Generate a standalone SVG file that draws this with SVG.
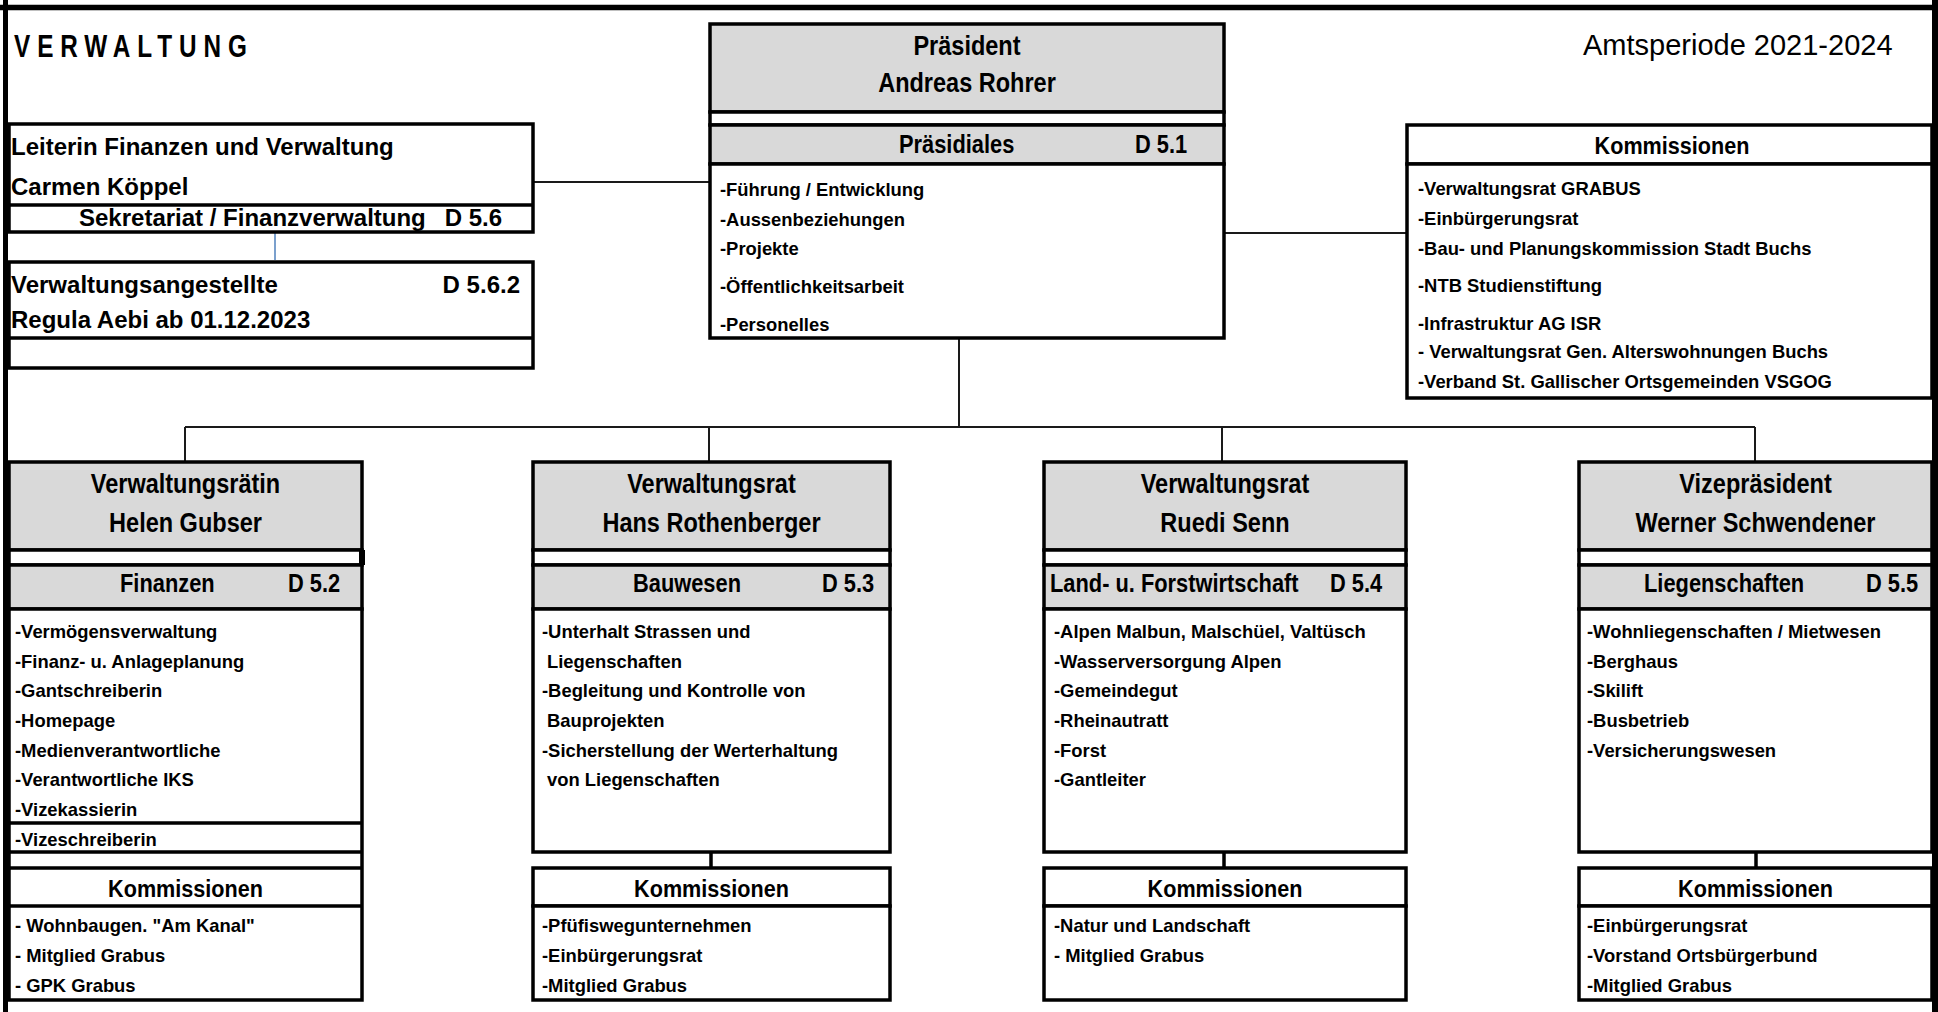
<svg xmlns="http://www.w3.org/2000/svg" width="1938" height="1012" viewBox="0 0 1938 1012">
<style>
.bx{fill:#fff;stroke:#000;stroke-width:3.5}
.gy{fill:#d9d9d9;stroke:#000;stroke-width:3.5}
.ln{stroke:#000;stroke-width:3.5;fill:none}
.cn{stroke:#1a1a1a;stroke-width:2;fill:none}
.fr{stroke:#000;fill:none}
text{font-family:"Liberation Sans",Arial,sans-serif;font-weight:bold;fill:#000}
.h{font-size:28px;text-anchor:middle}
.b{font-size:26px}
.k{font-size:24px;text-anchor:middle}
.l{font-size:18.4px}
.m{font-size:24px}
.e{text-anchor:end}
</style>
<rect width="1938" height="1012" fill="#fff"/>
<g id="frame">
<line class="fr" x1="5.5" y1="0" x2="5.5" y2="1012" stroke-width="5"/>
<line class="fr" x1="0" y1="7.5" x2="1938" y2="7.5" stroke-width="5.5"/>
<line class="fr" x1="1935" y1="0" x2="1935" y2="1012" stroke-width="6"/>
<text transform="matrix(0.76 0 0 1 14 57)" font-size="32" letter-spacing="9.1">VERWALTUNG</text>
<text x="1583" y="55" font-size="29" style="font-weight:normal">Amtsperiode 2021-2024</text>
</g>
<g id="connectors">
<path class="cn" d="M522 182H710M1224 233H1407M959 338V427M185 427H1755M185 427V462M709 427V462M1222 427V462M1755 427V462"/>
<path class="ln" d="M711 852V868M1224 852V868"/>
<path class="ln" d="M1756 852V868" stroke-width="6"/>
<path d="M275 233V260" stroke="#4f81bd" stroke-width="1.5" fill="none"/>
</g>
<g id="leiterin">
<rect class="bx" x="9" y="124" width="524" height="108"/>
<line class="ln" x1="9" y1="205" x2="533" y2="205"/>
<text class="m" x="11" y="155">Leiterin Finanzen und Verwaltung</text>
<text class="m" x="11" y="195">Carmen Köppel</text>
<text class="m" x="79" y="226">Sekretariat / Finanzverwaltung</text>
<text class="m e" x="502" y="226">D 5.6</text>
</g>
<g id="angestellte">
<rect class="bx" x="9" y="262" width="524" height="106"/>
<line class="ln" x1="9" y1="338" x2="533" y2="338"/>
<text class="m" x="11" y="293">Verwaltungsangestellte</text>
<text class="m e" x="520" y="293">D 5.6.2</text>
<text class="m" x="11" y="328">Regula Aebi ab 01.12.2023</text>
</g>
<g id="praesident">
<rect class="gy" x="710" y="24" width="514" height="88"/>
<rect class="bx" x="710" y="112" width="514" height="13"/>
<rect class="gy" x="710" y="125" width="514" height="39"/>
<rect class="bx" x="710" y="164" width="514" height="174"/>
<text class="h" transform="matrix(0.84 0 0 1 967 55)">Präsident</text>
<text class="h" transform="matrix(0.84 0 0 1 967 92)">Andreas Rohrer</text>
<text class="b" transform="matrix(0.84 0 0 1 899 153)">Präsidiales</text>
<text class="b" transform="matrix(0.84 0 0 1 1135 153)">D 5.1</text>
<text class="l" x="720" y="196">-Führung / Entwicklung</text>
<text class="l" x="720" y="226">-Aussenbeziehungen</text>
<text class="l" x="720" y="255">-Projekte</text>
<text class="l" x="720" y="293">-Öffentlichkeitsarbeit</text>
<text class="l" x="720" y="331">-Personelles</text>
</g>
<g id="kommissionen-top">
<rect class="bx" x="1407" y="125" width="525" height="39"/>
<rect class="bx" x="1407" y="164" width="525" height="234"/>
<text class="k" transform="matrix(0.9 0 0 1 1672 154)">Kommissionen</text>
<text class="l" x="1418" y="195">-Verwaltungsrat GRABUS</text>
<text class="l" x="1418" y="225">-Einbürgerungsrat</text>
<text class="l" x="1418" y="255">-Bau- und Planungskommission Stadt Buchs</text>
<text class="l" x="1418" y="292">-NTB Studienstiftung</text>
<text class="l" x="1418" y="330">-Infrastruktur AG ISR</text>
<text class="l" x="1418" y="358">- Verwaltungsrat Gen. Alterswohnungen Buchs</text>
<text class="l" x="1418" y="388">-Verband St. Gallischer Ortsgemeinden VSGOG</text>
</g>
<g id="gubser">
<rect class="gy" x="9" y="462" width="353" height="88"/>
<rect class="bx" x="9" y="550" width="353" height="15"/>
<rect x="359" y="550" width="6" height="15" fill="#000"/>
<rect class="gy" x="9" y="565" width="353" height="44"/>
<rect class="bx" x="9" y="609" width="353" height="391"/>
<path class="ln" d="M9 823H362M9 852H362M9 868H362M9 906H362"/>
<text class="h" transform="matrix(0.84 0 0 1 185.5 493)">Verwaltungsrätin</text>
<text class="h" transform="matrix(0.84 0 0 1 185.5 532)">Helen Gubser</text>
<text class="b" transform="matrix(0.84 0 0 1 120 592)">Finanzen</text>
<text class="b" transform="matrix(0.84 0 0 1 288 592)">D 5.2</text>
<text class="l" x="15" y="638">-Vermögensverwaltung</text>
<text class="l" x="15" y="668">-Finanz- u. Anlageplanung</text>
<text class="l" x="15" y="697">-Gantschreiberin</text>
<text class="l" x="15" y="727">-Homepage</text>
<text class="l" x="15" y="757">-Medienverantwortliche</text>
<text class="l" x="15" y="786">-Verantwortliche IKS</text>
<text class="l" x="15" y="816">-Vizekassierin</text>
<text class="l" x="15" y="846">-Vizeschreiberin</text>
<text class="k" transform="matrix(0.9 0 0 1 185.5 897)">Kommissionen</text>
<text class="l" x="15" y="932">- Wohnbaugen. "Am Kanal"</text>
<text class="l" x="15" y="962">- Mitglied Grabus</text>
<text class="l" x="15" y="992">- GPK Grabus</text>
</g>
<g id="rothenberger">
<rect class="gy" x="533" y="462" width="357" height="88"/>
<rect class="bx" x="533" y="550" width="357" height="15"/>
<rect class="gy" x="533" y="565" width="357" height="44"/>
<rect class="bx" x="533" y="609" width="357" height="243"/>
<rect class="bx" x="533" y="868" width="357" height="38"/>
<rect class="bx" x="533" y="906" width="357" height="94"/>
<text class="h" transform="matrix(0.84 0 0 1 711.5 493)">Verwaltungsrat</text>
<text class="h" transform="matrix(0.84 0 0 1 711.5 532)">Hans Rothenberger</text>
<text class="b" transform="matrix(0.84 0 0 1 633 592)">Bauwesen</text>
<text class="b" transform="matrix(0.84 0 0 1 822 592)">D 5.3</text>
<text class="l" x="542" y="638">-Unterhalt Strassen und</text>
<text class="l" x="547" y="668">Liegenschaften</text>
<text class="l" x="542" y="697">-Begleitung und Kontrolle von</text>
<text class="l" x="547" y="727">Bauprojekten</text>
<text class="l" x="542" y="757">-Sicherstellung der Werterhaltung</text>
<text class="l" x="547" y="786">von Liegenschaften</text>
<text class="k" transform="matrix(0.9 0 0 1 711.5 897)">Kommissionen</text>
<text class="l" x="542" y="932">-Pfüfiswegunternehmen</text>
<text class="l" x="542" y="962">-Einbürgerungsrat</text>
<text class="l" x="542" y="992">-Mitglied Grabus</text>
</g>
<g id="senn">
<rect class="gy" x="1044" y="462" width="362" height="88"/>
<rect class="bx" x="1044" y="550" width="362" height="15"/>
<rect class="gy" x="1044" y="565" width="362" height="44"/>
<rect class="bx" x="1044" y="609" width="362" height="243"/>
<rect class="bx" x="1044" y="868" width="362" height="38"/>
<rect class="bx" x="1044" y="906" width="362" height="94"/>
<text class="h" transform="matrix(0.84 0 0 1 1225 493)">Verwaltungsrat</text>
<text class="h" transform="matrix(0.84 0 0 1 1225 532)">Ruedi Senn</text>
<text class="b" transform="matrix(0.84 0 0 1 1050 592)">Land- u. Forstwirtschaft</text>
<text class="b" transform="matrix(0.84 0 0 1 1330 592)">D 5.4</text>
<text class="l" x="1054" y="638">-Alpen Malbun, Malschüel, Valtüsch</text>
<text class="l" x="1054" y="668">-Wasserversorgung Alpen</text>
<text class="l" x="1054" y="697">-Gemeindegut</text>
<text class="l" x="1054" y="727">-Rheinautratt</text>
<text class="l" x="1054" y="757">-Forst</text>
<text class="l" x="1054" y="786">-Gantleiter</text>
<text class="k" transform="matrix(0.9 0 0 1 1225 897)">Kommissionen</text>
<text class="l" x="1054" y="932">-Natur und Landschaft</text>
<text class="l" x="1054" y="962">- Mitglied Grabus</text>
</g>
<g id="schwendener">
<rect class="gy" x="1579" y="462" width="353" height="88"/>
<rect class="bx" x="1579" y="550" width="353" height="15"/>
<rect class="gy" x="1579" y="565" width="353" height="44"/>
<rect class="bx" x="1579" y="609" width="353" height="243"/>
<rect class="bx" x="1579" y="868" width="353" height="38"/>
<rect class="bx" x="1579" y="906" width="353" height="94"/>
<text class="h" transform="matrix(0.84 0 0 1 1755.5 493)">Vizepräsident</text>
<text class="h" transform="matrix(0.84 0 0 1 1755.5 532)">Werner Schwendener</text>
<text class="b" transform="matrix(0.84 0 0 1 1644 592)">Liegenschaften</text>
<text class="b" transform="matrix(0.84 0 0 1 1866 592)">D 5.5</text>
<text class="l" x="1587" y="638">-Wohnliegenschaften / Mietwesen</text>
<text class="l" x="1587" y="668">-Berghaus</text>
<text class="l" x="1587" y="697">-Skilift</text>
<text class="l" x="1587" y="727">-Busbetrieb</text>
<text class="l" x="1587" y="757">-Versicherungswesen</text>
<text class="k" transform="matrix(0.9 0 0 1 1755.5 897)">Kommissionen</text>
<text class="l" x="1587" y="932">-Einbürgerungsrat</text>
<text class="l" x="1587" y="962">-Vorstand Ortsbürgerbund</text>
<text class="l" x="1587" y="992">-Mitglied Grabus</text>
</g>
</svg>
